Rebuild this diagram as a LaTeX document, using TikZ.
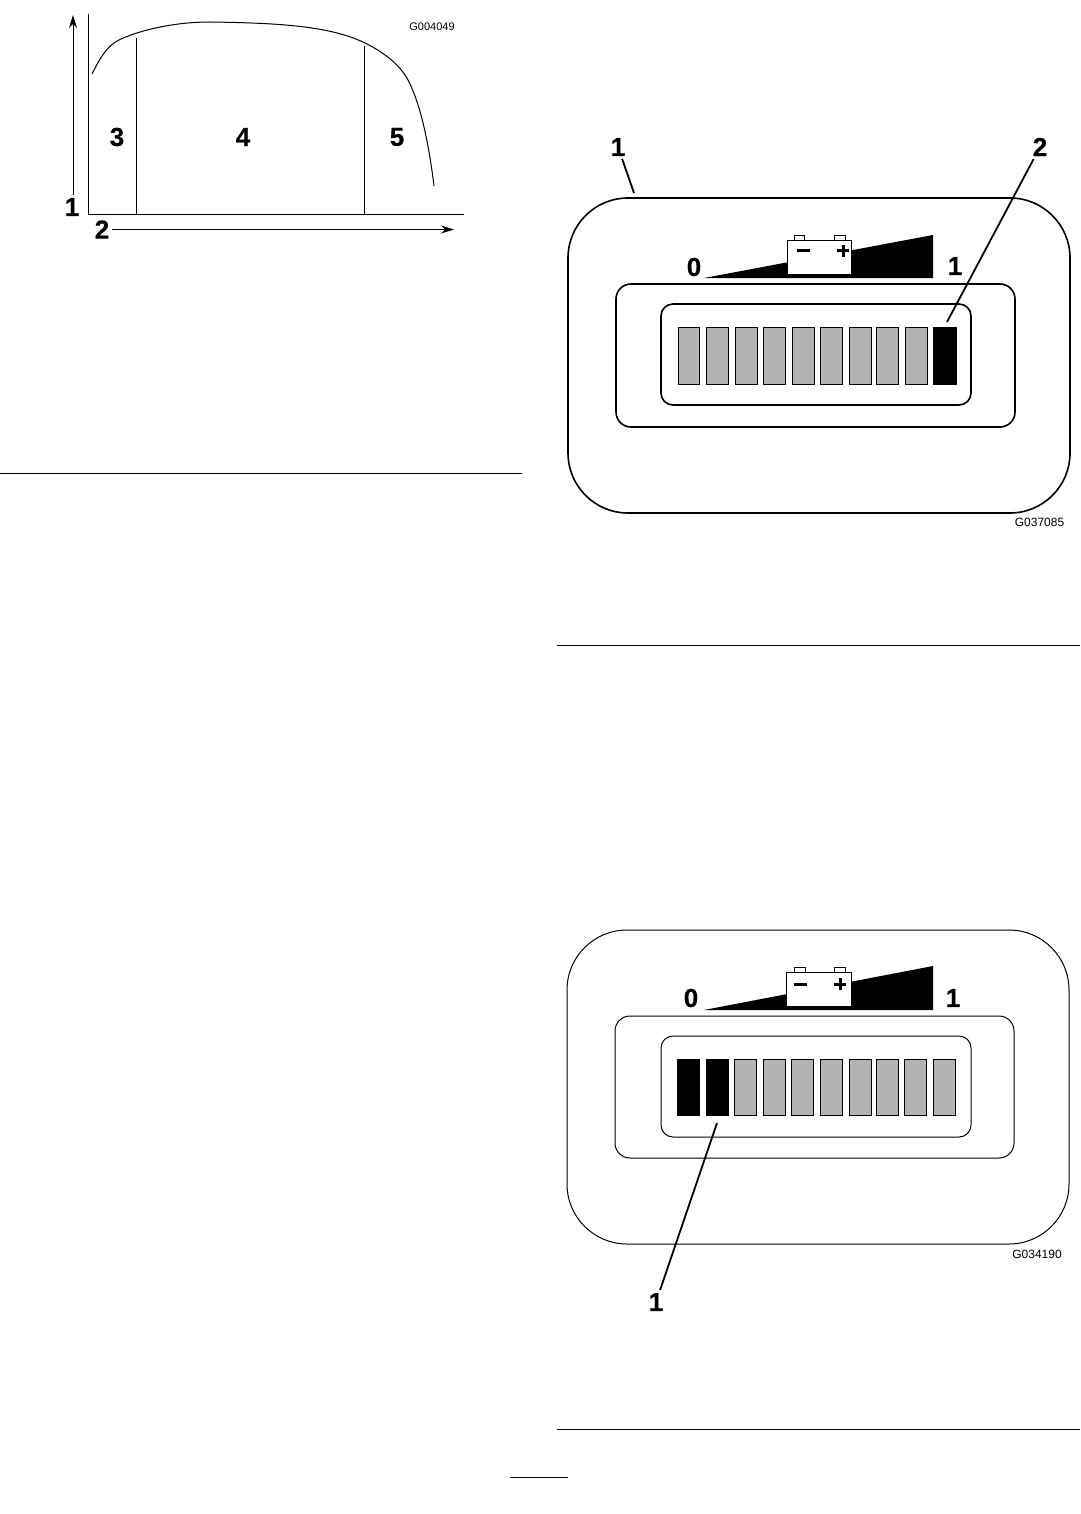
\documentclass[tikz,border=0pt]{standalone}
\usepackage{fontspec}
\setmainfont[BoldFeatures={FakeBold=0.5}]{Liberation Sans}
\usepackage{tikz}
\usetikzlibrary{arrows.meta}
\tikzset{
  callout/.style={font=\fontsize{26}{26}\selectfont\bfseries, inner sep=0pt, outer sep=3pt},
  partno/.style={font=\fontsize{11}{11}\selectfont, inner sep=0pt},
  leader/.style={line width=1.8pt},
  axisarrow/.style={line width=1pt, -{Stealth[length=13pt,width=8pt]}},
  baroff/.style={draw=black, fill=black!30, line width=0.8pt},
  baron/.style={draw=black, fill=black, line width=0.8pt},
}

\begin{document}
\begin{tikzpicture}[x=1pt, y=-1pt]
\useasboundingbox (0,0) rectangle (1080,1514);
% page rules
\draw[line width=1pt] (0,473)--(522,473);
\draw[line width=1pt] (557,645)--(1080,645);
\draw[line width=1pt] (557,1429)--(1080,1429);
\draw[line width=1pt] (510,1477)--(568,1477);
%
% curve chart
\draw[line width=1pt] (88.5,14)--(88.5,214.5)--(464,214.5);
\draw[line width=1pt] (136,38)--(136,214.5);
\draw[line width=1pt] (364.5,46)--(364.5,214.5);
\draw[line width=1pt] (92,74) .. controls (100,58) and (107,46) .. (119,40)
  .. controls (135,32) and (170,22) .. (210,22)
  .. controls (280,23) and (330,26) .. (365,43)
  .. controls (385,53) and (400,65) .. (408,80)
  .. controls (421,105) and (429,145) .. (434,186);
\node[callout] (yLabel) at (72,207) {1};
\node[callout] (xLabel) at (102,229.5) {2};
\node[callout] (startLabel) at (117,137) {3};
\node[callout] (midLabel) at (243,137) {4};
\node[callout] (endLabel) at (397,137) {5};
\node[partno] (chartNo) at (432,27) {G004049};
\coordinate (yTip) at (73,15);
\coordinate (xTip) at (454,229.5);
\draw[axisarrow] (yLabel.north -| yTip)--(yTip);
\draw[axisarrow] (xLabel.east)--(xTip);
%
% full gauge
\draw[line width=1.6pt, rounded corners=60pt] (568,198) rectangle (1070,513);
\draw[line width=1.6pt, rounded corners=15pt] (616,284) rectangle (1015,427);
\draw[line width=1.6pt, rounded corners=12pt] (661,304) rectangle (971,405);
\foreach \xa/\xb in {678/699,706/728,735/757,763/785,792/814,820/842,849/871,876/898,905/927}
  \draw[baroff] (\xa,327) rectangle (\xb,384);
\draw[baron] (933,327) rectangle (956,384);
\fill (704,278)--(933,235)--(933,278)--cycle;
\draw[line width=0.8pt, fill=white] (794,235) rectangle (804,240);
\draw[line width=0.8pt, fill=white] (834,235) rectangle (845,240);
\node[draw=black, fill=white, line width=0.8pt, minimum width=64pt, minimum height=34pt, inner sep=0pt] (fullBatt) at (819,257) {};
\draw[line width=3pt] (797,251)--(810,251);
\draw[line width=3pt] (837,251)--(849,251);
\draw[line width=3pt] (843,245)--(843,257);
\node[callout] (fullZero) at (694,267) {0};
\node[callout] (fullOne) at (955,266) {1};
\node[callout] (fullCase) at (618,147) {1};
\node[callout] (fullBar) at (1040,147) {2};
\node[partno, font=\fontsize{12}{12}\selectfont] (fullNo) at (1039.5,522) {G037085};
\coordinate (fullCaseTip) at (634,193);
\coordinate (fullBarTip) at (947,322);
\draw[leader] (fullCase)--(fullCaseTip);
\draw[leader] (fullBar)--(fullBarTip);
%
% low gauge
\draw[line width=1pt, rounded corners=60pt] (567,930) rectangle (1069,1244);
\draw[line width=1pt, rounded corners=15pt] (615,1016) rectangle (1014,1158);
\draw[line width=1pt, rounded corners=12pt] (661,1036) rectangle (971,1137);
\foreach \xa/\xb in {677/699,706/728}
  \draw[baron] (\xa,1059) rectangle (\xb,1115);
\foreach \xa/\xb in {734/756,763/785,791/813,820/842,849/871,876/898,904/926,933/955}
  \draw[baroff] (\xa,1059) rectangle (\xb,1115);
\fill (704,1010)--(933,966)--(933,1010)--cycle;
\draw[line width=0.8pt, fill=white] (794,967) rectangle (805,972);
\draw[line width=0.8pt, fill=white] (834,967) rectangle (845,972);
\node[draw=black, fill=white, line width=0.8pt, minimum width=65pt, minimum height=34pt, inner sep=0pt] (lowBatt) at (818.5,989) {};
\draw[line width=3pt] (794,984)--(807,984);
\draw[line width=3pt] (834,984)--(846,984);
\draw[line width=3pt] (840,978)--(840,990);
\node[callout] (lowZero) at (691,998) {0};
\node[callout] (lowOne) at (953,998) {1};
\node[callout] (lowBar) at (656,1302) {1};
\node[partno, font=\fontsize{12}{12}\selectfont] (lowNo) at (1037,1254) {G034190};
\coordinate (lowBarTip) at (717,1123);
\draw[leader] (lowBar)--(lowBarTip);
\end{tikzpicture}
\end{document}
